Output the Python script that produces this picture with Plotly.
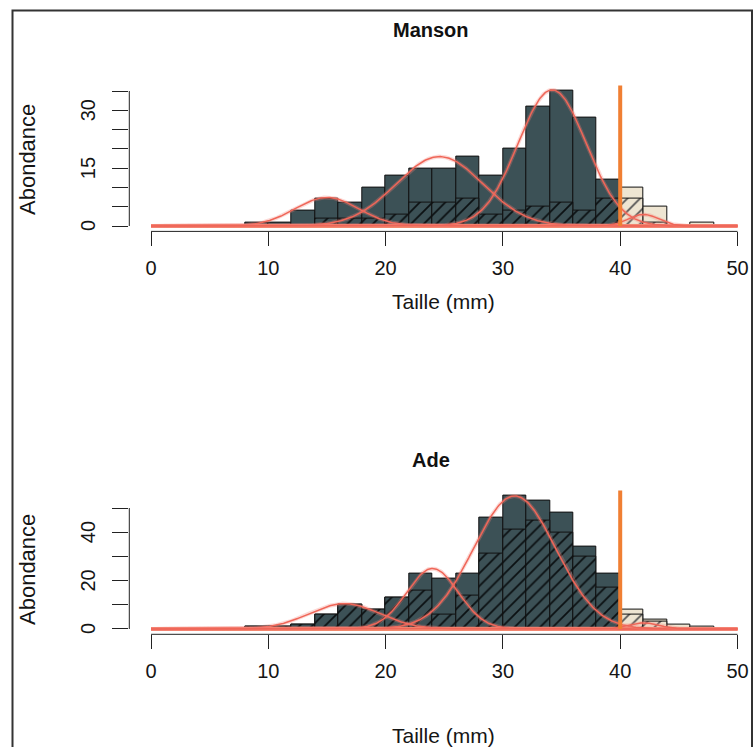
import plotly.graph_objects as go
import numpy as np

# ---------------- data ----------------
bin_left = [8, 10, 12, 14, 16, 18, 20, 22, 24, 26, 28, 30, 32, 34, 36, 38, 40, 42, 44, 46]
bin_width = 2
cutoff = 40

manson_total = [1, 1, 4, 7, 6, 10, 13, 15, 15, 18, 13, 20, 31, 35, 28, 12, 10, 5, 0, 1]
manson_hatch = [0, 0, 0, 2, 2, 2, 3, 6, 6, 7, 3, 4, 5, 6, 4, 7, 7, 1, 0, 0]
ade_total = [1, 1, 2, 6, 10, 8, 13, 23, 21, 23, 46, 55, 53, 48, 34, 23, 8, 4, 2, 1]
ade_hatch = [1, 1, 2, 6, 10, 8, 13, 16, 6, 14, 31, 41, 45, 40, 30, 17, 6, 3, 0, 0]

# mixture components (mean, sd, peak height)
manson_mean = [15.0, 24.6, 34.2, 42.0]
manson_sd = [2.7, 3.7, 2.9, 1.3]
manson_peak = [7.4, 18.0, 35.3, 3.0]
ade_mean = [16.5, 24.0, 31.0, 42.0]
ade_sd = [3.0, 2.2, 3.5, 1.3]
ade_peak = [10.5, 25.0, 55.0, 2.5]

x_ticks = [0, 10, 20, 30, 40, 50]
manson_yticks = [0, 5, 10, 15, 20, 25, 30, 35]
manson_ylabels = [0, 15, 30]
ade_yticks = [0, 10, 20, 30, 40, 50]
ade_ylabels = [0, 20, 40]

# ---------------- styling ----------------
W, H = 755, 747
DARK = "#3C5156"
HATCH = "#0b1012"
BEIGE = "#EEE5D2"
BEIGE_HATCH = "#555555"
CURVE = "#EF6658"
HALO = "rgba(245,130,120,0.30)"
VLINE = "#F07F33"
BASE = "#F28C6A"
FONT = "Liberation Sans, Arial, sans-serif"
TXT = "#151515"

def px_x(p):
    return p / W

def px_y(p):
    return 1 - p / H

# x scale: 0 -> 151px, 11.73 px per mm
x0_px, x_scale = 151.0, 11.73
x_range = [(129.3 - x0_px) / x_scale, (W - x0_px) / x_scale]
x_dom = [px_x(129.3), 1.0]

panels = [
    dict(name="Manson", total=manson_total, hatch=manson_hatch,
         mean=manson_mean, sd=manson_sd, peak=manson_peak,
         yticks=manson_yticks, ylabels=manson_ylabels, ymax=max(manson_total),
         top=85.6, bottom=231.4, title_y=30, xlab_y=302, ylab_y=160),
    dict(name="Ade", total=ade_total, hatch=ade_hatch,
         mean=ade_mean, sd=ade_sd, peak=ade_peak,
         yticks=ade_yticks, ylabels=ade_ylabels, ymax=max(ade_total),
         top=490.6, bottom=634.3, title_y=460, xlab_y=735, ylab_y=570),
]

fig = go.Figure()
annotations = []
shapes = []
centers = [b + bin_width / 2 for b in bin_left]
xs = np.linspace(0, 50, 601)

for i, p in enumerate(panels):
    ax = "" if i == 0 else str(i + 1)
    xa, ya = "x" + ax, "y" + ax
    for keep, fill, hcol in [(lambda c: c < cutoff, DARK, HATCH),
                             (lambda c: c >= cutoff, BEIGE, BEIGE_HATCH)]:
        idx = [k for k, c in enumerate(centers) if keep(c)]
        cx = [centers[k] for k in idx]
        tot = [p["total"][k] for k in idx]
        hat = [p["hatch"][k] for k in idx]
        fig.add_trace(go.Bar(x=cx, y=tot, width=bin_width,
                             marker=dict(color=fill, line=dict(color="#111", width=1)),
                             xaxis=xa, yaxis=ya, showlegend=False, hoverinfo="skip"))
        fig.add_trace(go.Bar(x=cx, y=hat, width=bin_width,
                             marker=dict(color=fill, line=dict(color="#111", width=1),
                                         pattern=dict(shape="/", fgcolor=hcol, bgcolor=fill,
                                                      fgopacity=1, size=9, solidity=0.2,
                                                      fillmode="replace")),
                             xaxis=xa, yaxis=ya, showlegend=False, hoverinfo="skip"))
    # baseline orange line
    fig.add_trace(go.Scatter(x=[0, 50], y=[0, 0], mode="lines",
                             line=dict(color=BASE, width=4),
                             xaxis=xa, yaxis=ya, showlegend=False, hoverinfo="skip"))
    # mixture components
    for m, s, h in zip(p["mean"], p["sd"], p["peak"]):
        ys = h * np.exp(-0.5 * ((xs - m) / s) ** 2)
        fig.add_trace(go.Scatter(x=xs, y=ys, mode="lines", line=dict(color=HALO, width=4),
                                 xaxis=xa, yaxis=ya, showlegend=False, hoverinfo="skip"))
        fig.add_trace(go.Scatter(x=xs, y=ys, mode="lines", line=dict(color=CURVE, width=1.5),
                                 xaxis=xa, yaxis=ya, showlegend=False, hoverinfo="skip"))

    ymin = -0.04 * p["ymax"]
    ymaxr = 1.04 * p["ymax"]
    dom = [px_y(p["bottom"]), px_y(p["top"])]
    fig.update_layout(**{
        ("xaxis" + ax): dict(domain=x_dom, range=x_range, anchor=ya,
                             tickvals=x_ticks, ticktext=[str(t) for t in x_ticks],
                             ticks="outside", ticklen=14, tickwidth=1, tickcolor="#222",
                             showgrid=False, zeroline=False, showline=False,
                             tickfont=dict(family=FONT, size=20, color=TXT),
                             ticklabelstandoff=5, fixedrange=True),
        ("yaxis" + ax): dict(domain=dom, range=[ymin, ymaxr], anchor=xa,
                             tickvals=p["yticks"], ticktext=["" for _ in p["yticks"]],
                             ticks="outside", ticklen=16, tickwidth=1, tickcolor="#222",
                             showgrid=False, zeroline=False, showline=False,
                             fixedrange=True),
    })
    # vertical cutoff line
    shapes.append(dict(type="line", xref=xa, yref=ya + " domain", x0=cutoff, x1=cutoff,
                       y0=(0 - ymin) / (ymaxr - ymin), y1=1, line=dict(color=VLINE, width=4)))
    # axis lines (R style: span tick range only)
    shapes.append(dict(type="line", xref=xa, yref=ya + " domain", x0=x_ticks[0], x1=x_ticks[-1],
                       y0=0, y1=0, line=dict(color="#222", width=1)))
    shapes.append(dict(type="line", xref=xa + " domain", yref=ya, x0=0, x1=0,
                       y0=p["yticks"][0], y1=p["yticks"][-1], line=dict(color="#222", width=1)))
    # y tick labels (rotated, R style)
    for v in p["ylabels"]:
        annotations.append(dict(text=str(v), xref="paper", yref=ya, x=px_x(88), y=v,
                                textangle=-90, showarrow=False, xanchor="center", yanchor="middle",
                                font=dict(family=FONT, size=20, color=TXT)))
    annotations.append(dict(text="<b>" + p["name"] + "</b>", xref="paper", yref="paper",
                            x=px_x(431), y=px_y(p["title_y"]), showarrow=False,
                            xanchor="center", yanchor="middle",
                            font=dict(family=FONT, size=20, color="#111")))
    annotations.append(dict(text="Taille (mm)", xref="paper", yref="paper",
                            x=px_x(444), y=px_y(p["xlab_y"]), showarrow=False,
                            xanchor="center", yanchor="middle",
                            font=dict(family=FONT, size=21, color=TXT)))
    annotations.append(dict(text="Abondance", xref="paper", yref="paper",
                            x=px_x(27), y=px_y(p["ylab_y"]), showarrow=False, textangle=-90,
                            xanchor="center", yanchor="middle",
                            font=dict(family=FONT, size=22, color=TXT)))

# outer frame
shapes.append(dict(type="rect", xref="paper", yref="paper", x0=px_x(12.5), x1=px_x(752),
                   y0=-0.02, y1=px_y(10.5), line=dict(color="#333", width=2)))

fig.update_layout(width=W, height=H, margin=dict(l=0, r=0, t=0, b=0),
                  paper_bgcolor="white", plot_bgcolor="white", barmode="overlay",
                  bargap=0, shapes=shapes, annotations=annotations, showlegend=False)

fig.write_html("out.html")
